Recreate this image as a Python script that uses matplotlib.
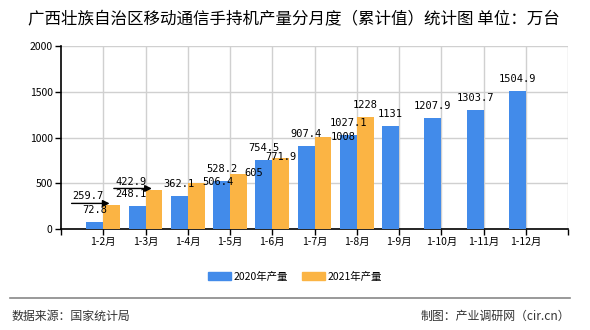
import matplotlib
matplotlib.use("Agg")
import matplotlib.pyplot as plt
from matplotlib.lines import Line2D
from matplotlib.patches import Patch
import numpy as np

plt.rcParams['font.family'] = ['Noto Sans CJK SC', 'DejaVu Sans']

### --------- DATA --------- ###

months = ['1-2月', '1-3月', '1-4月', '1-5月', '1-6月', '1-7月',
          '1-8月', '1-9月', '1-10月', '1-11月', '1-12月']
prod_2020 = [72.8, 248.1, 362.1, 528.2, 754.5, 907.4,
             1027.1, 1131, 1207.9, 1303.7, 1504.9]
prod_2021 = [259.7, 422.9, 506.4, 605, 771.9, 1008, 1228]
series_names = ['2020年产量', '2021年产量']

title = '广西壮族自治区移动通信手持机产量分月度（累计值）统计图 单位：万台'
source_text = '数据来源：国家统计局'
maker_text = '制图：产业调研网（cir.cn）'

BLUE = '#428BEA'
ORANGE = '#FBB444'

# label shifts in pixels (dx, dy down) where the labels were pushed aside
shift_2020 = {1: (-6, 0)}
shift_2021 = {0: (-24, 3), 1: (-23, 4), 2: (22, 11), 3: (15, 11),
              4: (0, 11), 5: (20, 12)}
arrow_2021 = [0, 1]

PX = 72 / 100.0  # pixels -> points

### --------- PLOT --------- ###

fig = plt.figure(figsize=(5.9, 3.3), dpi=100)
ax = fig.add_axes([61 / 590, 1 - 229 / 330, 507 / 590, 183 / 330])

pos = np.arange(1, len(months) + 1)
w = 0.4
ax.bar(pos - w / 2, prod_2020, width=w, color=BLUE, zorder=3)
pos21 = pos[:len(prod_2021)]
ax.bar(pos21 + w / 2, prod_2021, width=w, color=ORANGE, zorder=3)

ax.set_xlim(0, 12)
ax.set_ylim(0, 2000)
ax.set_yticks([0, 500, 1000, 1500, 2000])
ax.set_xticks(pos)
ax.set_xticklabels(months)
ax.set_xticks(np.arange(0, 13), minor=True)
ax.tick_params(axis='both', which='major', labelsize=7.5, length=4,
               width=1, color='black', pad=2)
ax.tick_params(axis='x', which='minor', length=4, width=1)
ax.grid(True, which='major', axis='y', color='#d0d0d0', lw=1, zorder=0)
for gx in range(1, 13):
    ax.axvline(gx, color='#d0d0d0', lw=1, zorder=0)
for s in ['top', 'right']:
    ax.spines[s].set_visible(False)
ax.spines['left'].set_linewidth(1.2)
ax.spines['bottom'].set_linewidth(1.2)

lab_font = dict(family='DejaVu Sans Mono', fontsize=7.5, color='black')


def fmt(v):
    return ('%g' % v)


def put_label(x, v, shift):
    dx, dy = shift
    ax.annotate(fmt(v), xy=(x, v), xytext=(dx * PX, (12 - dy) * PX),
                textcoords='offset points', ha='center', va='center',
                zorder=5, **lab_font)


for i, v in enumerate(prod_2020):
    put_label(pos[i] - w / 2, v, shift_2020.get(i, (0, 0)))
for i, v in enumerate(prod_2021):
    put_label(pos21[i] + w / 2, v, shift_2021.get(i, (0, 0)))

for i in arrow_2021:
    v = prod_2021[i]
    ax.annotate('', xy=(pos21[i] + 0.15, v + 20), xytext=(-38 * PX, 0),
                textcoords='offset points',
                arrowprops=dict(arrowstyle='-|>', color='black', lw=1,
                                shrinkA=0, shrinkB=0, mutation_scale=10),
                zorder=6)

fig.text(28 / 590, 1 - 18.5 / 330, title, fontsize=11.9, va='center',
         ha='left', color='black')

handles = [Patch(color=BLUE), Patch(color=ORANGE)]
fig.legend(handles, series_names, loc='center', ncol=2,
           bbox_to_anchor=(0.5, 1 - 277 / 330), frameon=False,
           fontsize=7.5, handlelength=2.2, handleheight=0.8,
           handletextpad=0.3, columnspacing=1.3)

fig.add_artist(Line2D([10 / 590, 570 / 590], [1 - 298 / 330, 1 - 298 / 330],
                      color='#888888', lw=1.2, transform=fig.transFigure))
fig.text(12 / 590, 1 - 316 / 330, source_text, fontsize=8.6, color='#333333',
         ha='left', va='center')
fig.text(570 / 590, 1 - 316 / 330, maker_text, fontsize=8.6, color='#333333',
         ha='right', va='center')

fig.savefig('out.png', dpi=100)
